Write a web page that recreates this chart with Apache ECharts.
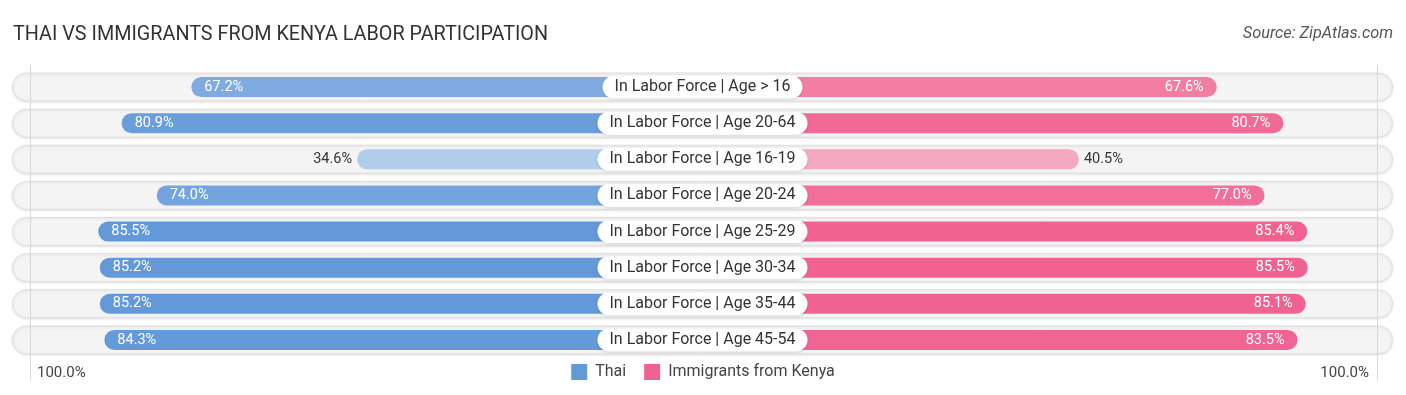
<!DOCTYPE html>
<html>
<head>
<meta charset="utf-8">
<script src="https://cdn.jsdelivr.net/npm/echarts@6/dist/echarts.min.js"></script>
<style>
html,body{margin:0;padding:0;background:#fff;}
#chart{width:1406px;height:395px;}
</style>
</head>
<body>
<div id="chart"></div>
<script>
const categories = [
  'In Labor Force | Age > 16',
  'In Labor Force | Age 20-64',
  'In Labor Force | Age 16-19',
  'In Labor Force | Age 20-24',
  'In Labor Force | Age 25-29',
  'In Labor Force | Age 30-34',
  'In Labor Force | Age 35-44',
  'In Labor Force | Age 45-54'
];
const thai = [67.2, 80.9, 34.6, 74.0, 85.5, 85.2, 85.2, 84.3];
const kenya = [67.6, 80.7, 40.5, 77.0, 85.4, 85.5, 85.1, 83.5];
const seriesNames = ['Thai', 'Immigrants from Kenya'];
const axisEndLabels = ['100.0%', '100.0%'];

const OFFSET = 33.43;   // bar start hidden under center label (in % units)
const AXIS_MAX = 138.25;
const BLUE = [99, 153, 217];
const PINK = [240, 99, 144];

function mix(rgb, v) {
  let a = 0.5 + (v - 35) / 50 * 0.5;
  a = Math.max(0.45, Math.min(1, a));
  const c = rgb.map(x => Math.round(255 - (255 - x) * a));
  return 'rgb(' + c.join(',') + ')';
}

function buildData(vals, rgb, side) {
  return vals.map(v => {
    const inside = v > 50;
    return {
      value: OFFSET + v,
      itemStyle: { color: mix(rgb, v) },
      label: {
        position: inside ? (side === 'left' ? 'insideLeft' : 'insideRight') : (side === 'left' ? 'left' : 'right'),
        distance: inside ? 13 : 5,
        color: inside ? '#ffffff' : '#333333'
      }
    };
  });
}

const chart = echarts.init(document.getElementById('chart'));
const TOP = 69, BOTTOM = 37;
const rgbStr = c => 'rgb(' + c.join(',') + ')';

chart.setOption({
  animation: false,
  textStyle: { fontFamily: 'Roboto' },
  title: [
    { text: 'THAI VS IMMIGRANTS FROM KENYA LABOR PARTICIPATION', left: 8, top: 20,
      textStyle: { fontFamily: 'Roboto', fontWeight: 'normal', fontSize: 19.8, color: '#333' } },
    { text: 'Source: ZipAtlas.com', right: 8, top: 21,
      textStyle: { fontFamily: 'Roboto', fontStyle: 'italic', fontWeight: 'normal', fontSize: 16.3, color: '#555' } },
    { text: axisEndLabels[0], left: 32, top: 361,
      textStyle: { fontFamily: 'Roboto', fontWeight: 'normal', fontSize: 15, color: '#444' } },
    { text: axisEndLabels[1], right: 32, top: 361,
      textStyle: { fontFamily: 'Roboto', fontWeight: 'normal', fontSize: 15, color: '#444' } }
  ],
  legend: {
    data: seriesNames,
    left: 'center',
    top: 359,
    itemWidth: 16,
    itemHeight: 16,
    itemGap: 18,
    icon: 'rect',
    textStyle: { fontFamily: 'Roboto', fontSize: 16, color: '#444', padding: [0, 0, 0, 3] }
  },
  grid: [
    { left: 0, width: 703, top: TOP, bottom: BOTTOM },
    { left: 703, width: 703, top: TOP, bottom: BOTTOM },
    { left: 12, right: 13, top: TOP, bottom: BOTTOM },
    { left: 30, right: 29, top: 65, bottom: 15 }
  ],
  xAxis: [
    { gridIndex: 0, type: 'value', min: 0, max: AXIS_MAX, inverse: true, show: false },
    { gridIndex: 1, type: 'value', min: 0, max: AXIS_MAX, show: false },
    { gridIndex: 2, type: 'value', min: 0, max: 1, show: false },
    { gridIndex: 3, type: 'value', min: 0, max: 1, interval: 1, axisLine: { show: false }, axisTick: { show: false }, axisLabel: { show: false },
      splitLine: { show: true, lineStyle: { color: '#d8d8d8', width: 1 } }, z: 3 }
  ],
  yAxis: [0, 1, 2].map(i => ({ gridIndex: i, type: 'category', data: categories, inverse: true, show: false }))
    .concat([{ gridIndex: 3, type: 'value', show: false }]),
  series: [
    {
      name: 'track', type: 'bar', xAxisIndex: 2, yAxisIndex: 2, z: 1,
      data: categories.map(() => 1), barWidth: 29, silent: true,
      itemStyle: { color: '#f4f4f4', borderColor: '#dedede', borderWidth: 1, borderRadius: 14.5,
        shadowColor: 'rgba(0,0,0,0.10)', shadowBlur: 3, shadowOffsetY: 1 }
    },
    {
      name: 'Thai', type: 'bar', xAxisIndex: 0, yAxisIndex: 0, z: 4,
      data: buildData(thai, BLUE, 'left'), barWidth: 20,
      itemStyle: { color: rgbStr(BLUE), borderRadius: 10 },
      label: { show: true, fontSize: 14.5, fontFamily: 'Roboto',
        formatter: p => thai[p.dataIndex].toFixed(1) + '%' }
    },
    {
      name: 'Immigrants from Kenya', type: 'bar', xAxisIndex: 1, yAxisIndex: 1, z: 4,
      data: buildData(kenya, PINK, 'right'), barWidth: 20,
      itemStyle: { color: rgbStr(PINK), borderRadius: 10 },
      label: { show: true, fontSize: 14.5, fontFamily: 'Roboto',
        formatter: p => kenya[p.dataIndex].toFixed(1) + '%' }
    },
    {
      name: 'pill', type: 'bar', xAxisIndex: 2, yAxisIndex: 2, z: 10,
      data: categories.map(() => 1), barWidth: 29, barGap: '-100%', silent: true,
      itemStyle: { color: 'rgba(0,0,0,0)' },
      label: {
        show: true, position: 'inside', formatter: p => categories[p.dataIndex],
        backgroundColor: '#ffffff', borderRadius: 12, padding: [3, 12],
        fontSize: 16, lineHeight: 17, color: '#333', fontFamily: 'Roboto',
        shadowColor: 'rgba(0,0,0,0.12)', shadowBlur: 3, shadowOffsetY: 1
      }
    }
  ]
});
</script>
</body>
</html>
